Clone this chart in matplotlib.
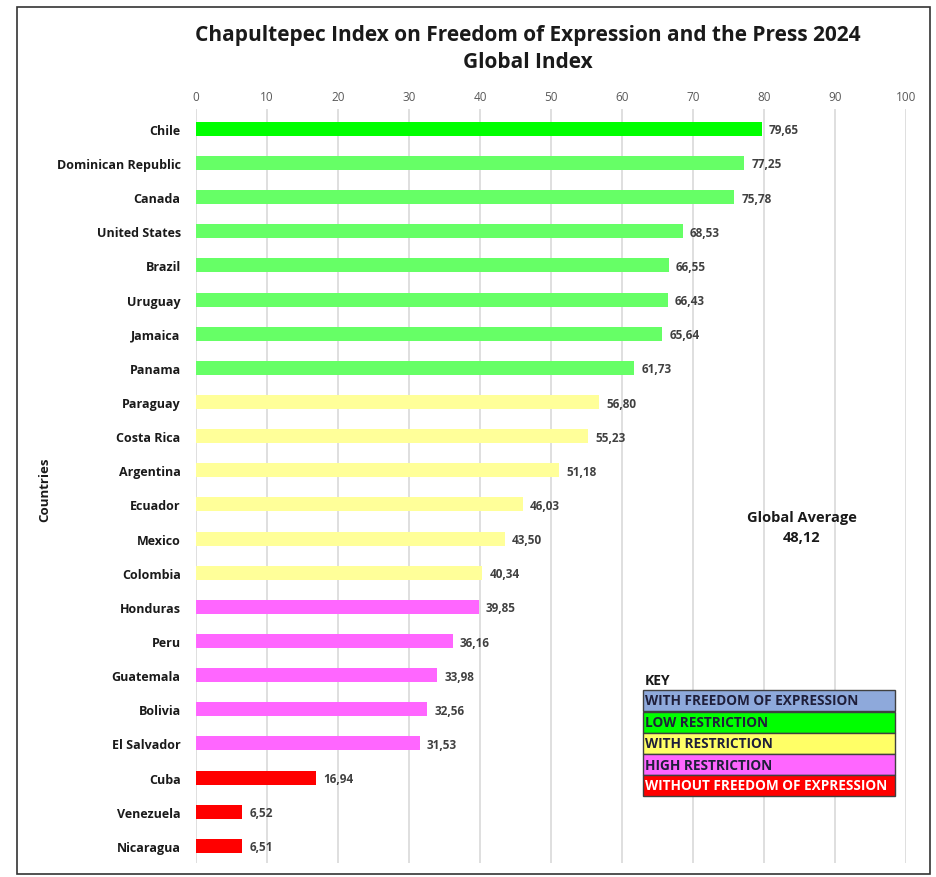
import matplotlib
matplotlib.use("Agg")
import matplotlib.pyplot as plt
from matplotlib.patches import Rectangle

plt.rcParams['font.family'] = ['Open Sans', 'DejaVu Sans']

countries = ["Chile", "Dominican Republic", "Canada", "United States", "Brazil", "Uruguay",
             "Jamaica", "Panama", "Paraguay", "Costa Rica", "Argentina", "Ecuador", "Mexico",
             "Colombia", "Honduras", "Peru", "Guatemala", "Bolivia", "El Salvador", "Cuba",
             "Venezuela", "Nicaragua"]
values = [79.65, 77.25, 75.78, 68.53, 66.55, 66.43, 65.64, 61.73, 56.80, 55.23, 51.18,
          46.03, 43.50, 40.34, 39.85, 36.16, 33.98, 32.56, 31.53, 16.94, 6.52, 6.51]
categories = ["low"] + ["green"] * 7 + ["with"] * 6 + ["high"] * 5 + ["without"] * 3
cat_colors = {"low": "#00FF00", "green": "#66FF66", "with": "#FFFF99",
              "high": "#FF66FF", "without": "#FF0000"}
x_ticks = [0, 10, 20, 30, 40, 50, 60, 70, 80, 90, 100]
key_labels = ["WITH FREEDOM OF EXPRESSION", "LOW RESTRICTION", "WITH RESTRICTION",
              "HIGH RESTRICTION", "WITHOUT FREEDOM OF EXPRESSION"]
key_colors = ["#8EA9DB", "#00FF00", "#FFFF66", "#FF66FF", "#FF0000"]
key_text_colors = ["#1F1F3A", "#1F1F3A", "#1F1F3A", "#1F1F3A", "#FFFFFF"]
global_avg = 48.12

W, H = 937, 878
fig = plt.figure(figsize=(W / 100, H / 100), dpi=100)

# outer frame
fig.patches.append(Rectangle((17 / W, 1 - 875 / H), (930 - 17) / W, (875 - 8) / H,
                             transform=fig.transFigure, fill=False,
                             edgecolor="#333333", linewidth=1.2))

ax = fig.add_axes([196 / W, 1 - 864 / H, (906 - 196) / W, (864 - 110) / H])
ypos = list(range(len(countries)))
ax.barh(ypos, values, height=0.41, color=[cat_colors[c] for c in categories], zorder=3)
for y, v in zip(ypos, values):
    ax.text(v + 1.0, y + 0.03, f"{v:.2f}".replace(".", ","), va="center", ha="left",
            fontsize=8.5, fontweight="bold", color="#404040")

ax.set_xlim(0, 100)
ax.set_ylim(21.5, -0.58)
ax.set_yticks(ypos)
ax.set_yticklabels(countries, fontsize=9, fontweight="bold", color="#1a1a1a")
ax.set_xticks(x_ticks)
ax.set_xticklabels([str(t) for t in x_ticks], fontsize=8.5, color="#595959")
ax.xaxis.tick_top()
ax.tick_params(axis="both", length=0)
ax.tick_params(axis="x", pad=4.5)
ax.tick_params(axis="y", pad=11)
ax.grid(axis="x", color="#D9D9D9", linewidth=1.2, zorder=0)
for s in ax.spines.values():
    s.set_visible(False)

fig.text(45 / W, 1 - 490 / H, "Countries", rotation=90, ha="center", va="center",
         fontsize=9.5, fontweight="bold", color="#1a1a1a")

fig.text(528 / W, 1 - 35 / H, "Chapultepec Index on Freedom of Expression and the Press 2024",
         ha="center", va="center", fontsize=15, fontweight="bold", color="#1a1a1a")
fig.text(528 / W, 1 - 62 / H, "Global Index", ha="center", va="center",
         fontsize=15, fontweight="bold", color="#1a1a1a")

fig.text(802 / W, 1 - 518 / H, "Global Average", ha="center", va="center",
         fontsize=10.5, fontweight="bold", color="#1a1a1a")
fig.text(802 / W, 1 - 538 / H, f"{global_avg:.2f}".replace(".", ","), ha="center", va="center",
         fontsize=10.5, fontweight="bold", color="#1a1a1a")

# key
fig.text(645 / W, 1 - 681 / H, "KEY", ha="left", va="center",
         fontsize=10, fontweight="bold", color="#1a1a1a")
x0, x1 = 643, 895
tops = [691, 713, 734, 755, 776]
hgt = 21
for top, lab, col, tcol in zip(tops, key_labels, key_colors, key_text_colors):
    fig.patches.append(Rectangle((x0 / W, 1 - (top + hgt) / H), (x1 - x0) / W, hgt / H,
                                 transform=fig.transFigure, facecolor=col,
                                 edgecolor="#404040", linewidth=1.0, zorder=5))
    fig.text((x0 + 2) / W, 1 - (top + hgt / 2) / H, lab, ha="left", va="center",
             fontsize=9.8, fontweight="bold", color=tcol, zorder=6)

fig.savefig("out.png", dpi=100, facecolor="white")
